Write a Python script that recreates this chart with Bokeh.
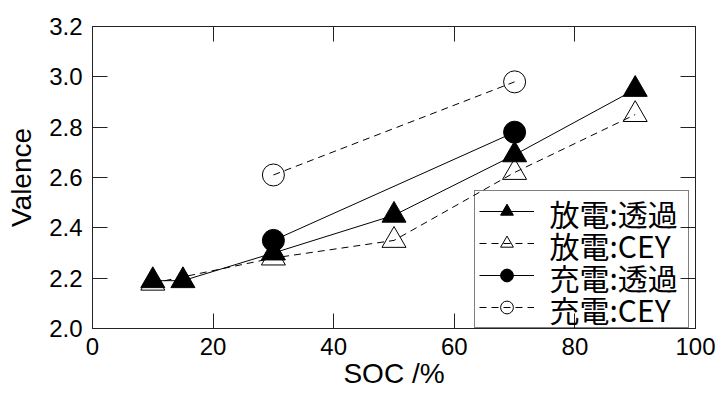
from bokeh.plotting import figure
from bokeh.models import (Range1d, FixedTicker, PrintfTickFormatter, LinearAxis,
                          Legend, LegendItem, Label)
from bokeh.embed import file_html
from bokeh.resources import INLINE

# ---- data ----
soc_dis_tr = [10, 15, 30, 50, 70, 90]
val_dis_tr = [2.19, 2.19, 2.30, 2.45, 2.69, 2.95]
soc_dis_cey = [10, 30, 50, 70, 90]
val_dis_cey = [2.18, 2.28, 2.35, 2.62, 2.85]
soc_chg_tr = [30, 70]
val_chg_tr = [2.35, 2.78]
soc_chg_cey = [30, 70]
val_chg_cey = [2.61, 2.98]
series_labels = ["放電:透過", "放電:CEY", "充電:透過", "充電:CEY"]
x_ticks = [0, 20, 40, 60, 80, 100]
y_ticks = [2.0, 2.2, 2.4, 2.6, 2.8, 3.0, 3.2]
x_label = "SOC /%"
y_label = "Valence"

FONT = "Liberation Sans"
CJK = "Noto Sans CJK JP"

p = figure(width=717, height=396, output_backend="svg", toolbar_location=None,
           x_range=Range1d(0, 100), y_range=Range1d(2.0, 3.2),
           min_border_left=92, min_border_right=22, min_border_top=26,
           min_border_bottom=68)
p.background_fill_color = "white"
p.border_fill_color = "white"
p.outline_line_color = "#222222"
p.outline_line_width = 1
p.xgrid.visible = False
p.ygrid.visible = False

def style_axis(ax, ticks, show_labels):
    ax.ticker = FixedTicker(ticks=ticks)
    ax.major_tick_in = 15
    ax.major_tick_out = 0
    ax.minor_tick_in = 0
    ax.minor_tick_out = 0
    ax.major_tick_line_color = "#222222"
    ax.major_tick_line_width = 1
    ax.axis_line_color = "#222222"
    ax.axis_line_width = 1
    ax.major_label_text_font = FONT
    if show_labels:
        ax.major_label_text_color = "black"
        ax.major_label_text_font_size = "24px"
        ax.major_label_standoff = 10
        ax.axis_label_text_font = FONT
        ax.axis_label_text_font_size = "28px"
        ax.axis_label_text_font_style = "normal"
        ax.axis_label_text_color = "black"
    else:
        ax.major_label_text_color = None
        ax.major_label_text_alpha = 0
        ax.major_label_text_font_size = "1px"
        ax.major_label_standoff = 0

style_axis(p.xaxis[0], x_ticks, True)
p.xaxis[0].major_label_standoff = 9
p.xaxis[0].axis_label = x_label
p.xaxis[0].axis_label_standoff = 0

style_axis(p.yaxis[0], y_ticks, True)
p.yaxis[0].formatter = PrintfTickFormatter(format="%.1f")
p.yaxis[0].axis_label = y_label
p.yaxis[0].axis_label_standoff = 9

ax_top = LinearAxis()
style_axis(ax_top, x_ticks, False)
p.add_layout(ax_top, "above")
ax_right = LinearAxis()
style_axis(ax_right, y_ticks, False)
p.add_layout(ax_right, "right")

DASH = "7 5"
r1l = p.line(soc_dis_tr, val_dis_tr, line_color="black", line_width=1)
r2l = p.line(soc_dis_cey, val_dis_cey, line_color="black", line_width=1, line_dash=DASH)
r3l = p.line(soc_chg_tr, val_chg_tr, line_color="black", line_width=1)
r4l = p.line(soc_chg_cey, val_chg_cey, line_color="black", line_width=1, line_dash=DASH)

r2m = p.scatter(soc_dis_cey, val_dis_cey, marker="triangle", size=24,
                fill_color=None, line_color="black", line_width=1)
r1m = p.scatter(soc_dis_tr, val_dis_tr, marker="triangle", size=24,
                fill_color="black", line_color="black", line_width=1)
r4m = p.scatter(soc_chg_cey, val_chg_cey, marker="circle", size=22,
                fill_color=None, line_color="black", line_width=1)
r3m = p.scatter(soc_chg_tr, val_chg_tr, marker="circle", size=22,
                fill_color="black", line_color="black", line_width=1)

# legend box (glyph column); the label texts are drawn as Labels so that the
# row pitch can stay as tight as in the reference
LEG_X, LEG_PAD, GLYPH_W, GLYPH_H, STANDOFF, LABEL_W = 382, 4, 55, 32, 16, 134
legend = Legend(items=[
    LegendItem(label=series_labels[0], renderers=[r1l, r1m]),
    LegendItem(label=series_labels[1], renderers=[r2l, r2m]),
    LegendItem(label=series_labels[2], renderers=[r3l, r3m]),
    LegendItem(label=series_labels[3], renderers=[r4l, r4m]),
], location=(LEG_X, 0))
legend.label_text_font_size = "1px"
legend.label_text_color = None
legend.label_text_alpha = 0
legend.glyph_width = GLYPH_W
legend.glyph_height = GLYPH_H
legend.label_height = GLYPH_H
legend.label_width = LABEL_W
legend.spacing = 0
legend.padding = LEG_PAD
legend.margin = 0
legend.label_standoff = STANDOFF
legend.border_line_color = "black"
legend.border_line_width = 1
legend.background_fill_color = "white"
legend.background_fill_alpha = 0
p.add_layout(legend)

leg_h = len(series_labels) * GLYPH_H + 2 * LEG_PAD
for i, lab in enumerate(series_labels):
    p.add_layout(Label(x=LEG_X + LEG_PAD + GLYPH_W + STANDOFF,
                       y=leg_h - LEG_PAD - GLYPH_H * (i + 0.5),
                       x_units="screen", y_units="screen", text=lab,
                       text_font=CJK, text_font_size="30px",
                       text_baseline="middle", text_align="left",
                       text_color="black"))

open("out.html", "w").write(file_html(p, INLINE))
